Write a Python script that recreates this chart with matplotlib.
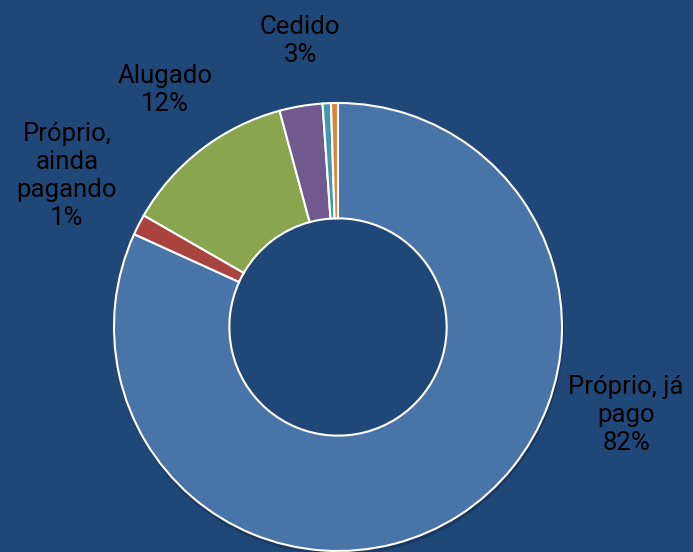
import numpy as np
import matplotlib.pyplot as plt
from matplotlib.patches import Circle

# housing situation shares (percent)
categories = ['Próprio, já pago', 'Próprio, ainda pagando', 'Alugado', 'Cedido', 'Outro', 'Ignorado']
values = [81.8, 1.5, 12.5, 3.1, 0.6, 0.5]
colors = ['#4874A8', '#A8433F', '#89A54E', '#71588F', '#4198AF', '#DB843D']
bg = '#1F4778'

label_texts = ['Próprio, já\npago\n82%', 'Próprio,\nainda\npagando\n1%', 'Alugado\n12%', 'Cedido\n3%']
label_pos = [(626, 137), (67, 376), (165, 462), (300, 511)]

fig = plt.figure(figsize=(6.93, 5.52), dpi=100, facecolor=bg)
ax = fig.add_axes([0, 0, 1, 1])
ax.set_facecolor(bg)

cx, cy, r = 338, 225, 224
hole = 0.485

# soft shadow below the ring
for k, a in zip([4, 3, 2], [0.10, 0.15, 0.2]):
    ax.add_patch(Circle((cx + 1, cy - k), r + 1, color='#0d2038', alpha=a, lw=0, zorder=1))
ax.add_patch(Circle((cx, cy), r * hole, color=bg, lw=0, zorder=1.5))

ax.pie(values, colors=colors, startangle=90, counterclock=False,
       center=(cx, cy), radius=r, frame=True,
       wedgeprops=dict(width=r * (1 - hole), edgecolor='white', linewidth=1.5, zorder=2))

ax.set_xlim(0, 693)
ax.set_ylim(0, 552)
ax.set_aspect('equal')
ax.axis('off')

for txt, (x, y) in zip(label_texts, label_pos):
    ax.text(x, y, txt, ha='center', va='center', fontsize=18.5, color='black',
            family='Roboto', linespacing=1.2, zorder=5)

fig.savefig('out.png', dpi=100, facecolor=bg)
